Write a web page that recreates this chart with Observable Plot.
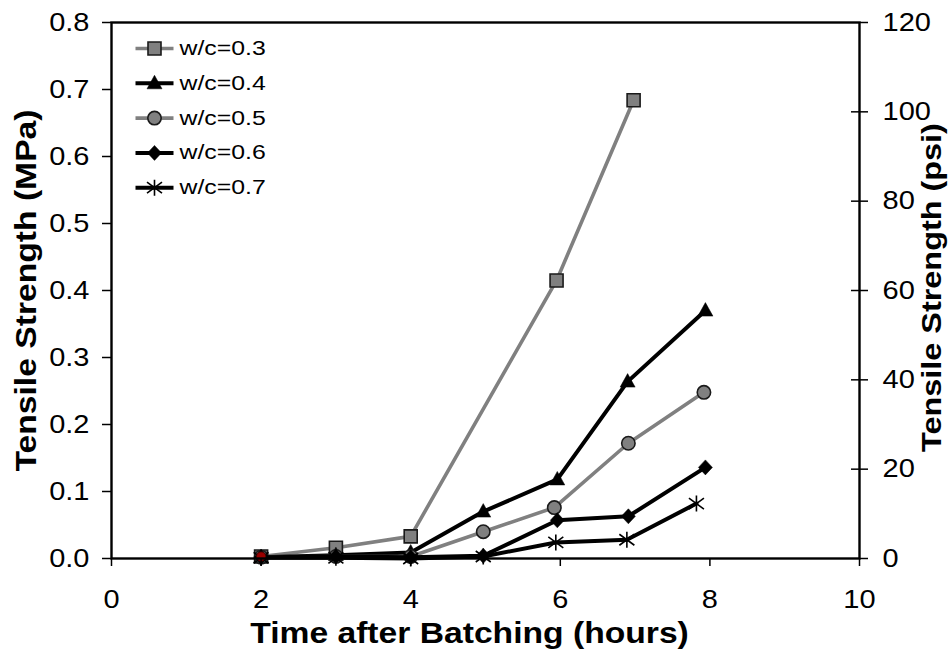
<!DOCTYPE html>
<html>
<head>
<meta charset="utf-8">
<script src="https://cdn.jsdelivr.net/npm/d3@7"></script>
<script src="https://cdn.jsdelivr.net/npm/@observablehq/plot@0.6"></script>
<style>
  body { margin: 0; background: #fff; }
  #chart svg { display: block; overflow: visible; }
</style>
</head>
<body>
<div id="chart"></div>
<script>
// ---- data ----
const seriesNames = ["w/c=0.3", "w/c=0.4", "w/c=0.5", "w/c=0.6", "w/c=0.7"];
const hours03 = [2, 3, 4, 5.95, 6.98];
const mpa03   = [0.003, 0.016, 0.033, 0.415, 0.684];
const hours04 = [2, 3, 4, 4.97, 5.96, 6.9, 7.94];
const mpa04   = [0.002, 0.005, 0.009, 0.070, 0.118, 0.264, 0.370];
const hours05 = [2, 3, 4, 4.97, 5.92, 6.91, 7.92];
const mpa05   = [0.002, 0.003, 0.003, 0.040, 0.076, 0.172, 0.248];
const hours06 = [2, 3, 4, 4.97, 5.96, 6.91, 7.94];
const mpa06   = [0.002, 0.003, 0.002, 0.004, 0.057, 0.063, 0.136];
const hours07 = [2, 3, 4, 4.97, 5.94, 6.89, 7.82];
const mpa07   = [0.001, 0.001, 0.000, 0.003, 0.024, 0.028, 0.082];
const highlightHours = [2];
const highlightMpa = [0.003];

const xTicks = [0, 2, 4, 6, 8, 10];
const mpaTicks = [0, 0.1, 0.2, 0.3, 0.4, 0.5, 0.6, 0.7, 0.8];
const psiTicks = [0, 20, 40, 60, 80, 100, 120];
const psiPerMpa = 150; // right axis: 120 psi aligned with 0.8 MPa

const xTitle = "Time after Batching (hours)";
const yTitleLeft = "Tensile Strength (MPa)";
const yTitleRight = "Tensile Strength (psi)";

// ---- marker symbols ----
const sqSym = {draw(c) { c.rect(-6.5, -6.5, 13, 13); }};
const triSym = {draw(c) { c.moveTo(0, -8); c.lineTo(7.5, 5.5); c.lineTo(-7.5, 5.5); c.closePath(); }};
const cirSym = {draw(c) { c.moveTo(6.7, 0); c.arc(0, 0, 6.7, 0, 2 * Math.PI); c.closePath(); }};
const diaSym = {draw(c) { c.moveTo(0, -7.5); c.lineTo(7, 0); c.lineTo(0, 7.5); c.lineTo(-7, 0); c.closePath(); }};
const astSym = {draw(c) {
  c.moveTo(0, -8); c.lineTo(0, 8);
  c.moveTo(-7.5, -5.5); c.lineTo(7.5, 5.5);
  c.moveTo(-7.5, 5.5); c.lineTo(7.5, -5.5);
}};
const lineSym = {draw(c) { c.moveTo(-19, 0); c.lineTo(19, 0); }};

const styles = [
  {line: "#808080", sym: sqSym,  fill: "#808080", stroke: "#1a1a1a", sw: 1.6, lw: 3.6},
  {line: "#000000", sym: triSym, fill: "#000000", stroke: "#000000", sw: 0.5, lw: 4},
  {line: "#808080", sym: cirSym, fill: "#808080", stroke: "#1a1a1a", sw: 1.6, lw: 3.6},
  {line: "#000000", sym: diaSym, fill: "#000000", stroke: "#000000", sw: 0.5, lw: 4},
  {line: "#000000", sym: astSym, fill: "none",    stroke: "#000000", sw: 1.6, lw: 4}
];

const allHours = [hours03, hours04, hours05, hours06, hours07];
const allMpa = [mpa03, mpa04, mpa05, mpa06, mpa07];
const seriesData = allHours.map((hs, i) => hs.map((h, j) => ({hours: h, mpa: allMpa[i][j], series: seriesNames[i]})));
const highlight = highlightHours.map((h, j) => ({hours: h, mpa: highlightMpa[j]}));

const marks = [];
seriesData.forEach((data, i) => {
  const s = styles[i];
  marks.push(Plot.line(data, {x: "hours", y: "mpa", stroke: s.line, strokeWidth: s.lw, strokeLinejoin: "round"}));
  marks.push(Plot.dot(data, {x: "hours", y: "mpa", symbol: s.sym, r: 6, fill: s.fill, stroke: s.stroke, strokeWidth: s.sw}));
});
marks.push(Plot.dot(highlight, {x: "hours", y: "mpa", r: 4.6, fill: "#990000", stroke: "#4a0000", strokeWidth: 0.8}));

// frame and axes
marks.push(Plot.frame({stroke: "#000", strokeWidth: 2.4}));
marks.push(Plot.axisX({ticks: xTicks, tickSize: 8, tickPadding: 24, tickFormat: d => String(d), fontSize: 25, label: null, strokeWidth: 1.5}));
marks.push(Plot.axisY({anchor: "left", ticks: mpaTicks, tickSize: 9, tickPadding: 13, tickFormat: d3.format(".1f"), fontSize: 25, label: null, strokeWidth: 1.5}));
marks.push(Plot.axisY({anchor: "right", ticks: psiTicks.map(p => p / psiPerMpa), tickSize: 8, tickPadding: 15,
  tickFormat: d => String(Math.round(d * psiPerMpa)), fontSize: 25, label: null, strokeWidth: 1.5}));
marks.push(Plot.axisY({anchor: "right", ticks: psiTicks.slice(1, -1).map(p => p / psiPerMpa), tickSize: 9, dx: -9,
  tickFormat: () => "", label: null, strokeWidth: 1.5}));

// axis titles
marks.push(Plot.text([xTitle], {text: d => d, frameAnchor: "bottom", dx: -16, dy: 75, fontSize: 29, fontWeight: "bold", textAnchor: "middle", lineAnchor: "middle"}));
marks.push(Plot.text([yTitleLeft], {text: d => d, frameAnchor: "left", dx: -85, dy: 0, rotate: -90, fontSize: 29, fontWeight: "bold", textAnchor: "middle", lineAnchor: "middle"}));
marks.push(Plot.text([yTitleRight], {text: d => d, frameAnchor: "right", dx: 73, dy: -3, rotate: -90, fontSize: 27, fontWeight: "bold", textAnchor: "middle", lineAnchor: "middle"}));

// legend inside plot area (top-left)
seriesNames.forEach((name, i) => {
  const s = styles[i];
  const dy = 26 + i * 34.8;
  marks.push(Plot.dot([name], {frameAnchor: "top-left", dx: 43, dy, symbol: lineSym, r: 6, fill: "none", stroke: s.line, strokeWidth: s.lw}));
  marks.push(Plot.dot([name], {frameAnchor: "top-left", dx: 43, dy, symbol: s.sym, r: 6, fill: s.fill, stroke: s.stroke, strokeWidth: s.sw}));
  marks.push(Plot.text([name], {text: d => d, frameAnchor: "top-left", dx: 68, dy, fontSize: 20, textAnchor: "start", lineAnchor: "middle"}));
});

const chart = Plot.plot({
  width: 950,
  height: 652,
  marginLeft: 111,
  marginRight: 91,
  marginTop: 22,
  marginBottom: 94,
  style: {fontFamily: "'Liberation Sans', Arial, sans-serif", fontSize: "25px", color: "#000", background: "#fff"},
  x: {domain: [0, 10], axis: null},
  y: {domain: [0, 0.8], axis: null},
  marks
});

document.getElementById("chart").appendChild(chart);

// widen glyphs along the text direction to match the reference's wide type
chart.querySelectorAll("text").forEach(t => {
  const txt = t.textContent;
  if (!txt) return;
  const fs = parseFloat(getComputedStyle(t).fontSize);
  let k = 1.16;
  if (fs < 22) k = 1.24;
  if (txt === yTitleRight) k = 1.2;
  const len = t.getComputedTextLength();
  if (len > 0) {
    t.setAttribute("textLength", (len * k).toFixed(1));
    t.setAttribute("lengthAdjust", "spacingAndGlyphs");
  }
});
</script>
</body>
</html>
